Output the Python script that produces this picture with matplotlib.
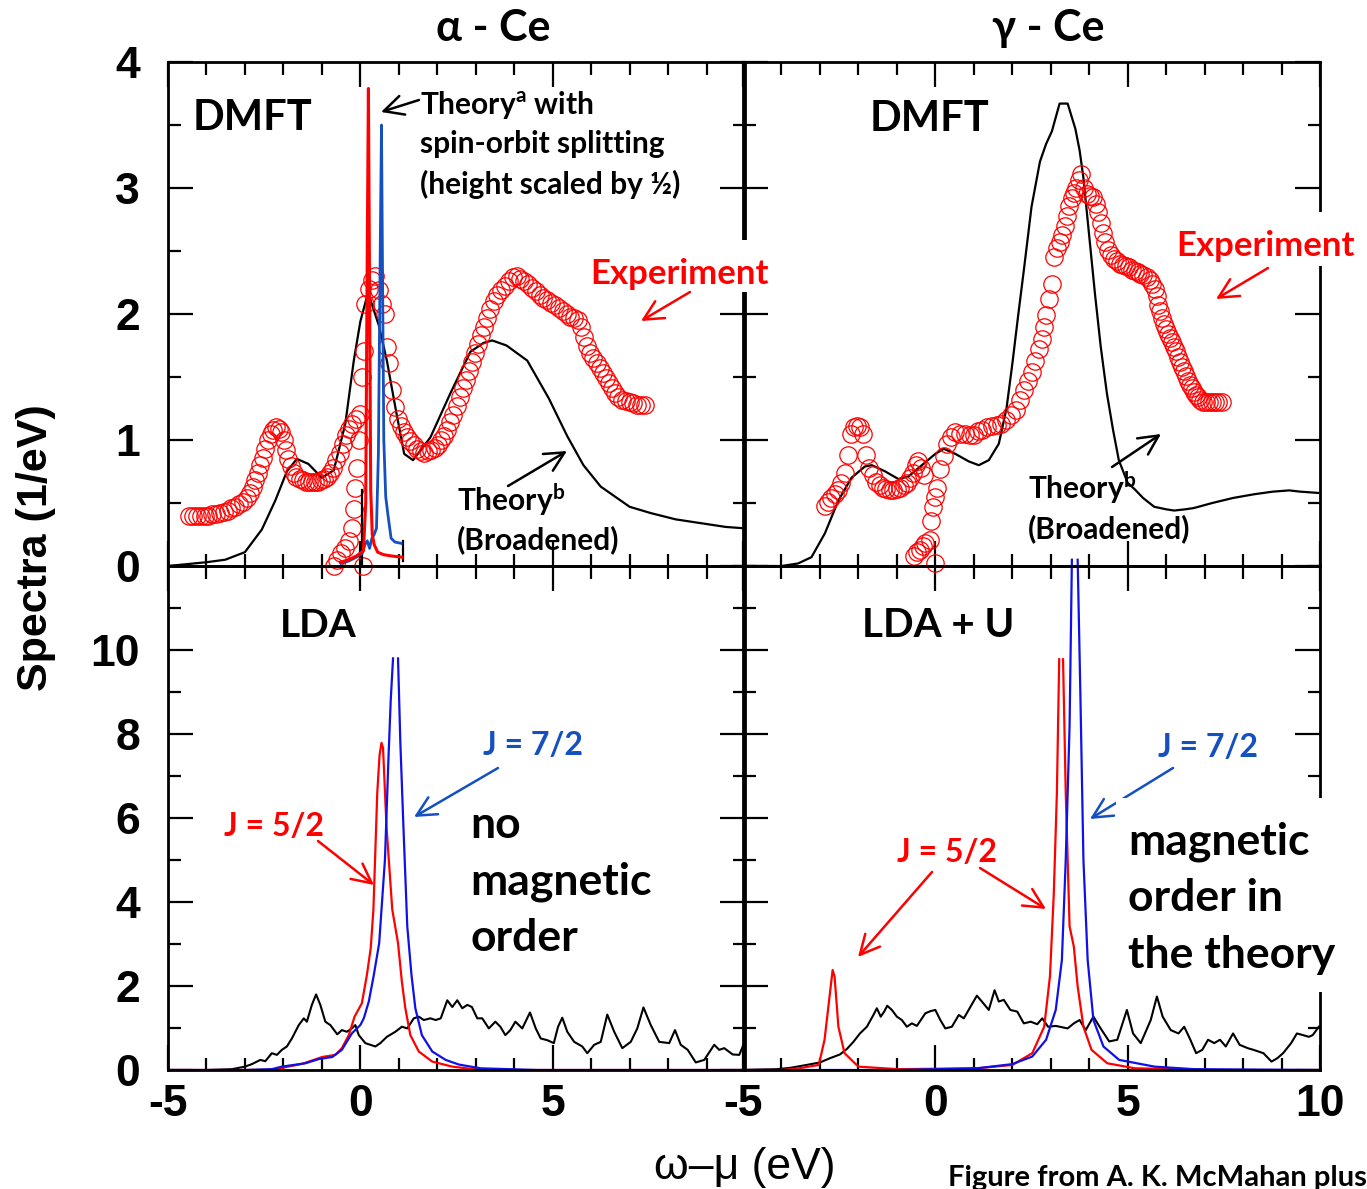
import numpy as np
import matplotlib
matplotlib.use('Agg')
from matplotlib import pyplot as plt
from matplotlib.patches import FancyArrowPatch, Rectangle
from matplotlib.ticker import MultipleLocator

plt.rcParams['font.family'] = ['Lato', 'DejaVu Sans']
plt.rcParams['mathtext.fontset'] = 'custom'
plt.rcParams['mathtext.rm'] = 'Lato'
plt.rcParams['mathtext.bf'] = 'Lato:bold'

W, H = 1367, 1189

# ---------------- data ----------------
# alpha-Ce, DMFT broadened theory (black)
a_dmft_x = [-5, -4.0, -3.51, -3.0, -2.56, -2.21, -1.91, -1.65, -1.35, -1.0, -0.69, -0.39, -0.17, 0.0, 0.2,
            0.48, 0.69, 0.91, 1.14, 1.37, 1.82, 2.34, 2.86, 3.2, 3.43, 3.8, 4.34, 4.9, 5.38, 5.8, 6.25, 7.0,
            7.55, 8.2, 8.85, 9.5, 9.95]
a_dmft_y = [0, 0.03, 0.05, 0.11, 0.29, 0.52, 0.75, 0.85, 0.81, 0.70, 0.76, 1.13, 1.63, 1.94, 2.17,
            1.91, 1.63, 1.26, 0.89, 0.84, 1.02, 1.37, 1.70, 1.77, 1.79, 1.75, 1.63, 1.33, 1.03, 0.80, 0.63, 0.47,
            0.42, 0.37, 0.34, 0.31, 0.30]

# alpha-Ce, theory a (spin-orbit split, unbroadened)
a_so_red_x = [-0.52, -0.3, -0.1, 0.08, 0.14, 0.18, 0.21, 0.24, 0.27, 0.31, 0.36, 0.45, 0.6, 0.8, 1.08]
a_so_red_y = [0.03, 0.05, 0.08, 0.12, 0.5, 2.5, 3.79, 2.2, 0.6, 0.25, 0.17, 0.11, 0.09, 0.08, 0.07]
a_so_blue_x = [-0.5, -0.3, -0.1, 0.05, 0.12, 0.18, 0.24, 0.3, 0.36, 0.42, 0.47, 0.52, 0.55, 0.58, 0.61,
               0.66, 0.72, 0.8, 0.9, 1.06]
a_so_blue_y = [0.02, 0.04, 0.07, 0.1, 0.17, 0.2, 0.14, 0.22, 0.25, 0.3, 0.9, 2.6, 3.5, 2.2, 1.0,
               0.55, 0.4, 0.22, 0.19, 0.18]
inset_x = [0.05, 0.05, np.nan, 1.1, 1.1]
inset_y = [0.0, 0.6, np.nan, 0.04, 0.2]

# alpha-Ce experiment (circles)
a_exp_x = [-4.45, -4.35, -4.25, -4.15, -4.05, -3.95, -3.85, -3.75, -3.65, -3.55, -3.45, -3.35, -3.25, -3.15,
           -3.05, -2.95, -2.87, -2.8, -2.73, -2.66, -2.6, -2.54, -2.47, -2.4, -2.33, -2.26, -2.19, -2.12,
           -2.05, -1.99, -1.93, -1.87, -1.8, -1.73, -1.66, -1.58, -1.5, -1.42, -1.34, -1.26, -1.18, -1.1,
           -1.02, -0.94, -0.86, -0.78, -0.7, -0.62, -0.54, -0.46, -0.38, -0.3, -0.22, -0.12,
           0.13, 0.22, 0.3, 0.39, 0.48, 0.56, 0.65, 0.7, 0.74, 0.83, 0.91, 0.99, 1.06, 1.14, 1.22, 1.3,
           1.39, 1.48, 1.57, 1.66, 1.75, 1.84, 1.93, 2.02, 2.1, 2.18, 2.26, 2.34, 2.42, 2.5, 2.58, 2.66,
           2.74, 2.82, 2.9, 2.98, 3.06, 3.14, 3.22, 3.3, 3.38, 3.47, 3.56, 3.66, 3.76, 3.86, 3.96, 4.06,
           4.16, 4.26, 4.36, 4.46, 4.56, 4.66, 4.76, 4.86, 4.96, 5.06, 5.16, 5.26, 5.36, 5.46, 5.56, 5.66,
           5.74, 5.82, 5.9, 5.98, 6.06, 6.14, 6.22, 6.3, 6.38, 6.46, 6.54, 6.62, 6.7, 6.8, 6.9, 7.0, 7.1,
           7.2, 7.3, 7.4,
           -0.68, -0.6, -0.5, -0.4, -0.3, -0.22, -0.17, -0.13, -0.09, -0.04, 0.0, 0.05, 0.09, 0.08]
a_exp_y = [0.40, 0.40, 0.40, 0.40, 0.40, 0.40, 0.41, 0.41, 0.42, 0.43, 0.44, 0.46, 0.47, 0.49,
           0.51, 0.54, 0.58, 0.63, 0.68, 0.74, 0.80, 0.86, 0.93, 1.0, 1.05, 1.08, 1.10, 1.09,
           1.06, 1.0, 0.92, 0.85, 0.79, 0.74, 0.71, 0.69, 0.68, 0.67, 0.67, 0.67, 0.67, 0.67,
           0.68, 0.69, 0.71, 0.74, 0.78, 0.84, 0.90, 0.97, 1.04, 1.09, 1.13, 1.17,
           2.08, 2.2, 2.27, 2.3, 2.19, 2.08, 2.0, 1.74, 1.61, 1.40, 1.26, 1.17, 1.11, 1.06, 1.02, 0.99,
           0.96, 0.93, 0.91, 0.90, 0.91, 0.92, 0.94, 0.96, 1.0, 1.03, 1.08, 1.14, 1.2, 1.27, 1.34, 1.41,
           1.48, 1.55, 1.62, 1.69, 1.76, 1.83, 1.9, 1.97, 2.04, 2.1, 2.15, 2.19, 2.22, 2.26, 2.29, 2.3,
           2.28, 2.26, 2.24, 2.21, 2.18, 2.15, 2.13, 2.11, 2.09, 2.07, 2.05, 2.02, 2.0, 1.98, 1.97, 1.95,
           1.9, 1.82, 1.75, 1.69, 1.65, 1.61, 1.57, 1.53, 1.49, 1.45, 1.41, 1.37, 1.34, 1.32, 1.31, 1.3, 1.29,
           1.28, 1.28, 1.28,
           0.0, 0.05, 0.1, 0.14, 0.2, 0.3, 0.45, 0.62, 0.78, 1.0, 1.21, 1.5, 1.71, 0.0]

# gamma-Ce, DMFT broadened theory (black)
g_dmft_x = [-5.0, -4.0, -3.57, -3.22, -2.87, -2.52, -2.18, -1.83, -1.65, -1.3, -0.96, -0.7, -0.35, 0.0, 0.22,
            0.52, 0.87, 1.13, 1.39, 1.65, 1.85, 2.0, 2.15, 2.31, 2.5, 2.72, 2.88, 3.03, 3.23, 3.44, 3.64,
            3.75, 3.85, 4.0, 4.15, 4.3, 4.46, 4.62, 4.77, 5.0, 5.18, 5.4, 5.69, 6.0, 6.21, 6.5, 6.72, 7.2,
            7.74, 8.3, 8.77, 9.2, 9.49, 9.95]
g_dmft_y = [0, 0.0, 0.02, 0.07, 0.26, 0.52, 0.70, 0.79, 0.80, 0.75, 0.69, 0.71, 0.80, 0.89, 0.93,
            0.89, 0.83, 0.80, 0.84, 0.97, 1.25, 1.6, 1.98, 2.37, 2.85, 3.21, 3.35, 3.45, 3.67, 3.67, 3.47,
            3.3, 3.08, 2.62, 2.16, 1.74, 1.37, 1.08, 0.84, 0.66, 0.61, 0.54, 0.47, 0.45, 0.44, 0.45, 0.46, 0.50,
            0.54, 0.57, 0.59, 0.60, 0.59, 0.58]

# gamma-Ce experiment (circles)
g_exp_x = [-2.87, -2.78, -2.7, -2.62, -2.54, -2.45, -2.35, -2.28, -2.2, -2.12, -2.04, -1.96, -1.88, -1.8,
           -1.72, -1.63, -1.54, -1.45, -1.36, -1.27, -1.18, -1.09, -1.0, -0.91, -0.82, -0.74, -0.66, -0.58,
           -0.5, -0.44, -0.36, -0.3,
           -0.56, -0.48, -0.41, -0.33, -0.26, -0.15, -0.1, -0.07, -0.02, 0.05, 0.13, 0.22, 0.3, 0.4, 0.52,
           0.65, 0.78, 0.9, 1.0, 1.1, 1.22, 1.34, 1.48, 1.6, 1.72, 1.85, 1.97, 2.1, 2.2, 2.3, 2.4, 2.5, 2.6,
           2.7, 2.77, 2.83, 2.88, 2.95, 3.03, 3.08, 3.16, 3.23, 3.3, 3.36, 3.42, 3.48, 3.54, 3.6, 3.66, 3.73,
           3.79, 3.87, 3.95, 4.03, 4.1, 4.18, 4.24, 4.3, 4.36, 4.42, 4.5, 4.57, 4.65, 4.72, 4.8, 4.87, 4.95,
           5.03, 5.1, 5.18, 5.26, 5.33, 5.41, 5.49, 5.57, 5.64, 5.7, 5.75, 5.8, 5.85, 5.9, 5.95, 6.0, 6.05,
           6.1, 6.15, 6.21, 6.26, 6.31, 6.36, 6.41, 6.46, 6.51, 6.56, 6.62, 6.67, 6.72, 6.77, 6.82, 6.87,
           6.95, 7.03, 7.11, 7.19, 7.27, 7.35, 7.44, 0.0]
g_exp_y = [0.48, 0.51, 0.54, 0.57, 0.60, 0.66, 0.74, 0.88, 1.05, 1.10, 1.11, 1.10, 1.05, 0.88,
           0.78, 0.72, 0.67, 0.64, 0.62, 0.61, 0.60, 0.60, 0.61, 0.62, 0.64, 0.66, 0.70, 0.74,
           0.80, 0.83, 0.78, 0.72,
           0.08, 0.11, 0.13, 0.16, 0.18, 0.21, 0.36, 0.47, 0.55, 0.62, 0.77, 0.87, 0.97, 1.02, 1.06,
           1.05, 1.05, 1.04, 1.04, 1.07, 1.08, 1.10, 1.11, 1.12, 1.13, 1.16, 1.20, 1.24, 1.32, 1.40, 1.47, 1.54, 1.63,
           1.72, 1.80, 1.90, 1.99, 2.12, 2.24, 2.45, 2.52, 2.57, 2.63, 2.70, 2.78, 2.86, 2.92, 2.96, 3.0, 3.06,
           3.11, 3.0, 2.95, 2.94, 2.93, 2.87, 2.81, 2.72, 2.64, 2.57, 2.51, 2.47, 2.44, 2.42, 2.40, 2.39, 2.38,
           2.37, 2.35, 2.34, 2.33, 2.32, 2.31, 2.29, 2.27, 2.24, 2.20, 2.14, 2.07, 2.02, 1.97, 1.92, 1.88, 1.84,
           1.81, 1.78, 1.74, 1.71, 1.66, 1.62, 1.58, 1.55, 1.51, 1.47, 1.44, 1.41, 1.38, 1.36, 1.34, 1.32,
           1.30, 1.30, 1.30, 1.30, 1.30, 1.30, 1.30, 0.02]

# LDA (alpha-Ce)
lda_blk_x = [-5, -4, -3.34, -3.0, -2.82, -2.6, -2.47, -2.3, -2.17, -2.04, -1.91, -1.78, -1.6, -1.47, -1.39,
             -1.26, -1.15, -1.04, -0.91, -0.78, -0.6, -0.48, -0.35, -0.22, -0.13, -0.04, 0.13, 0.39, 0.52,
             0.69, 0.91, 1.08, 1.22, 1.39, 1.52, 1.65, 1.82, 1.96, 2.09, 2.26, 2.39, 2.52, 2.65, 2.78, 2.9,
             3.04, 3.17, 3.34, 3.51, 3.64, 3.77, 3.9, 4.03, 4.21, 4.41, 4.56, 4.69, 4.86, 5.03, 5.14, 5.25,
             5.38, 5.56, 5.77, 5.9, 6.08, 6.25, 6.42, 6.6, 6.81, 7.03, 7.2, 7.36, 7.55, 7.77, 8.03, 8.18,
             8.33, 8.51, 8.72, 8.94, 9.2, 9.33, 9.46, 9.68, 9.85, 9.98]
lda_blk_y = [0, 0.0, 0.02, 0.08, 0.14, 0.24, 0.21, 0.40, 0.36, 0.48, 0.56, 0.75, 1.07, 1.23, 1.15,
             1.55, 1.80, 1.55, 1.15, 1.07, 0.85, 0.95, 0.91, 0.99, 1.07, 0.83, 0.64, 0.56, 0.64,
             0.79, 0.91, 1.03, 0.99, 1.23, 1.27, 1.19, 1.23, 1.19, 1.23, 1.66, 1.50, 1.66, 1.47, 1.55, 1.50,
             1.23, 1.23, 0.99, 1.15, 1.03, 0.83, 0.95, 1.15, 0.99, 1.37, 0.99, 0.75, 0.71, 0.64, 1.03, 1.245,
             0.91, 0.67, 0.56, 0.40, 0.60, 0.67, 1.32, 0.91, 0.52, 0.67, 0.99, 1.49, 1.07, 0.67, 0.64, 0.95,
             0.60, 0.48, 0.18, 0.24, 0.60, 0.48, 0.52, 0.37, 0.36, 0.64]
lda_red_x = [-5, -3, -2.25, -1.5, -0.99, -0.65, -0.48, -0.3, -0.15, 0.04, 0.17, 0.27, 0.34, 0.44, 0.5, 0.55,
             0.59, 0.68, 0.83, 0.98, 1.08, 1.17, 1.3, 1.52, 1.87, 2.39, 3.13, 10]
lda_red_y = [0, 0, 0.01, 0.15, 0.31, 0.36, 0.52, 0.83, 1.27, 1.59, 2.26, 2.9, 3.82, 6.6, 7.5, 7.79,
             7.67, 5.8, 3.82, 3.02, 2.1, 1.47, 0.83, 0.44, 0.2, 0.08, 0.0, 0.0]
lda_blue_x = [-5, -3, -2.3, -2.04, -1.43, -1.08, -0.73, -0.48, -0.22, -0.09, 0.0, 0.09, 0.22, 0.35, 0.49,
              0.64, 0.73, 0.79, 0.85, np.nan, 0.98, 1.04, 1.12, 1.22, 1.33, 1.43, 1.6, 1.87, 2.22, 2.56,
              3.13, 4.6, 10]
lda_blue_y = [0, 0, 0.02, 0.08, 0.16, 0.26, 0.31, 0.48, 0.87, 0.99, 1.07, 1.23, 1.63, 2.26, 3.02,
              5.01, 7.39, 8.8, 9.8, np.nan, 9.8, 7.8, 5.8, 3.42, 2.26, 1.47, 0.83, 0.44, 0.24, 0.13,
              0.04, 0.0, 0.0]

# LDA+U (gamma-Ce)
ldau_blk_x = [-5, -4.13, -3.78, -3.35, -3.0, -2.74, -2.48, -2.3, -2.13, -1.96, -1.78, -1.61, -1.52, -1.42,
              -1.33, -1.25, -1.13, -1.0, -0.87, -0.74, -0.61, -0.48, -0.26, -0.13, 0.0, 0.13, 0.26, 0.43,
              0.61, 0.74, 0.91, 1.08, 1.21, 1.39, 1.54, 1.65, 1.78, 1.95, 2.13, 2.3, 2.48, 2.65, 2.78,
              2.93, 3.13, 3.44, 3.6, 3.75, 3.91, 4.11, 4.27, 4.52, 4.73, 4.98, 5.14, 5.34, 5.6, 5.76,
              5.91, 6.12, 6.32, 6.47, 6.63, 6.78, 6.94, 7.09, 7.25, 7.4, 7.55, 7.74, 7.91, 8.12, 8.27,
              8.53, 8.74, 8.89, 9.04, 9.25, 9.4, 9.56, 9.71, 9.81, 9.97]
ldau_blk_y = [0, 0.02, 0.05, 0.12, 0.18, 0.28, 0.37, 0.50, 0.67, 0.87, 1.03, 1.31, 1.47, 1.27,
              1.39, 1.53, 1.43, 1.27, 1.19, 1.03, 1.11, 1.05, 1.35, 1.40, 1.43, 1.19, 0.99, 1.03,
              1.31, 1.23, 1.50, 1.77, 1.63, 1.43, 1.90, 1.63, 1.67, 1.43, 1.39, 1.11, 1.15, 1.09, 1.23,
              1.03, 1.05, 0.99, 1.11, 1.19, 0.95, 1.27, 1.03, 0.68, 0.72, 1.43, 0.87, 0.64, 1.19, 1.75,
              1.27, 0.95, 0.87, 1.03, 0.72, 0.40, 0.48, 0.72, 0.64, 0.72, 0.56, 0.87, 0.60, 0.52, 0.48,
              0.40, 0.20, 0.28, 0.40, 0.64, 0.87, 0.83, 0.79, 0.83, 1.03]
ldau_red_x = [-5, -4, -3.55, -3.03, -2.88, -2.74, -2.67, -2.62, -2.52, -2.36, -2.0, -0.98, 1.08, 2.0, 2.52,
              2.83, 2.98, 3.08, 3.16, 3.22, np.nan, 3.32, 3.39, 3.49, 3.6, 3.7, 3.85, 4.06, 4.47, 5.19,
              7.25, 10]
ldau_red_y = [0, 0, 0.04, 0.12, 0.72, 1.83, 2.38, 2.23, 1.03, 0.40, 0.08, 0.02, 0.04, 0.12, 0.40,
              1.03, 2.23, 4.21, 6.6, 9.78, np.nan, 9.78, 6.6, 3.42, 2.94, 1.99, 1.03, 0.48, 0.16, 0.04,
              0.0, 0.0]
ldau_blue_x = [-5, -1, 1.08, 2.0, 2.52, 2.88, 3.13, 3.29, 3.39, 3.49, 3.55, np.nan, 3.7, 3.77, 3.85, 3.96,
               4.11, 4.37, 4.78, 5.7, 6.73, 10]
ldau_blue_y = [0, 0.0, 0.04, 0.14, 0.32, 0.72, 1.43, 2.62, 5.0, 8.19, 12.15, np.nan, 12.15, 8.98, 5.0, 2.62,
               1.19, 0.56, 0.24, 0.08, 0.02, 0.0]

x_ticks = [-5, 0, 5, 10]
x_labels_left = ['-5', '0', '5', '']
x_labels_right = ['-5', '0', '5', '10']
top_yticks = [0, 1, 2, 3, 4]
bot_yticks = [0, 2, 4, 6, 8, 10]

RED = '#ff0000'
BLUE_LINE = '#1010e8'
BLUE_TXT = '#1450c0'

# ---------------- figure ----------------
fig = plt.figure(figsize=(W / 100, H / 100), dpi=100)


def P(px, py):
    return (px / W, 1 - py / H)


x0L, x0R, aw = 168 / W, 743 / W, 577 / W
y0T, y0B, ah = 1 - 566 / H, 1 - 1070 / H, 504 / H

axBL = fig.add_axes([x0L, y0B, aw, ah])
axBR = fig.add_axes([x0R, y0B, aw, ah])
axTL = fig.add_axes([x0L, y0T, aw, ah])
axTR = fig.add_axes([x0R, y0T, aw, ah])

for ax in (axTL, axTR, axBL, axBR):
    ax.patch.set_alpha(0)
    ax.set_xlim(-5, 10)
    for s in ax.spines.values():
        s.set_linewidth(2)
    ax.xaxis.set_major_locator(MultipleLocator(5))
    ax.xaxis.set_minor_locator(MultipleLocator(1))
    ax.tick_params(which='both', direction='in', top=True, right=True, width=1.6)
    ax.tick_params(which='major', length=18)
    ax.tick_params(which='minor', length=9)
    ax.tick_params(axis='y', pad=20)
    ax.tick_params(axis='x', pad=10)

for ax in (axTL, axTR):
    ax.set_ylim(0, 4)
    ax.yaxis.set_major_locator(MultipleLocator(1))
    ax.yaxis.set_minor_locator(MultipleLocator(0.5))
    ax.set_xticks(x_ticks)
    ax.set_xticklabels([])
for ax in (axBL, axBR):
    ax.set_ylim(0, 12)
    ax.yaxis.set_major_locator(MultipleLocator(2))
    ax.yaxis.set_minor_locator(MultipleLocator(1))

tickfont = dict(fontfamily='Liberation Sans', fontweight='bold', fontsize=32)
axTL.set_yticks(top_yticks)
axTL.set_yticklabels([str(v) for v in top_yticks], **tickfont)
axBL.set_yticks(bot_yticks)
axBL.set_yticklabels([str(v) for v in bot_yticks], **tickfont)
axTR.set_yticklabels([])
axBR.set_yticks(bot_yticks)
axBR.set_yticklabels([])
axBL.set_xticks(x_ticks)
axBL.set_xticklabels(x_labels_left, **tickfont)
axBR.set_xticks(x_ticks)
axBR.set_xticklabels(x_labels_right, **tickfont)

circ = dict(ls='none', marker='o', mfc='none', mec=RED, ms=12.5, mew=0.9, clip_on=False)

# top-left: alpha-Ce DMFT
axTL.plot(a_dmft_x, a_dmft_y, color='black', lw=1.6)
axTL.plot(a_exp_x, a_exp_y, **circ)
axTL.plot(inset_x, inset_y, color='black', lw=1.6)
axTL.plot(a_so_blue_x, a_so_blue_y, color=BLUE_TXT, lw=2)
axTL.plot(a_so_red_x, a_so_red_y, color=RED, lw=2.2)

# top-right: gamma-Ce DMFT
axTR.plot(g_dmft_x, g_dmft_y, color='black', lw=1.6)
axTR.plot(g_exp_x, g_exp_y, **circ)

# bottom-left: LDA
axBL.plot(lda_blk_x, lda_blk_y, color='black', lw=1.5)
axBL.plot(lda_red_x, lda_red_y, color=RED, lw=1.6)
axBL.plot(lda_blue_x, lda_blue_y, color=BLUE_LINE, lw=1.6)

# bottom-right: LDA+U
axBR.plot(ldau_blk_x, ldau_blk_y, color='black', lw=1.5)
axBR.plot(ldau_red_x, ldau_red_y, color=RED, lw=1.6)
axBR.plot(ldau_blue_x, ldau_blue_y, color=BLUE_LINE, lw=1.6, clip_on=False)


# ---------------- annotations ----------------
def txt(px, py, s, size, color='black', **kw):
    fig.text(*P(px, py), s, fontsize=size, color=color, fontweight='bold', va='baseline',
             zorder=6, **kw)


def arrow(tail, head, color='black', z=5.5):
    fig.add_artist(FancyArrowPatch(P(*tail), P(*head), transform=fig.transFigure,
                                   arrowstyle='->,head_length=0.7,head_width=0.35',
                                   mutation_scale=20, lw=1.8, color=color,
                                   shrinkA=0, shrinkB=0, zorder=z))


def blank(px0, py0, px1, py1):
    fig.add_artist(Rectangle(P(px0, py1), (px1 - px0) / W, (py1 - py0) / H,
                             transform=fig.transFigure, facecolor='white',
                             edgecolor='none', zorder=5))


# titles and axis labels
txt(493, 41, 'α - Ce', 31, ha='center')
txt(1048, 41, 'γ - Ce', 31, ha='center')
fig.text(*P(36, 548), 'Spectra (1/eV)', rotation=90, ha='center', va='center',
         fontfamily='Liberation Sans', fontweight='bold', fontsize=31)
fig.text(*P(745, 1168), 'ω–μ (eV)', ha='center', va='center',
         fontfamily='Liberation Sans', fontsize=32)
txt(948, 1186, 'Figure from A. K. McMahan plus', 21)

# top-left panel
txt(193, 130, 'DMFT', 30)
txt(420, 115, 'Theory$^{\\mathbf{a}}$ with', 21.5)
txt(420, 153, 'spin-orbit splitting', 21.5)
txt(420, 194, '(height scaled by ½)', 21.5)
arrow((419, 100), (381, 112))
blank(585, 240, 772, 292)
txt(590, 284, 'Experiment', 25, color=RED)
arrow((690, 292), (641, 321), RED)
txt(457, 511, 'Theory$^{\\mathbf{b}}$', 21.5)
txt(457, 549, '(Broadened)', 21.5)
arrow((508, 486), (567, 451))

# top-right panel
txt(870, 131, 'DMFT', 30)
blank(1170, 212, 1362, 266)
txt(1176, 256, 'Experiment', 25, color=RED)
arrow((1268, 268), (1216, 299), RED)
txt(1028, 499, 'Theory$^{\\mathbf{b}}$', 21.5)
txt(1028, 538, '(Broadened)', 21.5)
arrow((1112, 467), (1161, 434))

# bottom-left panel
txt(280, 637, 'LDA', 28)
txt(483, 755, 'J = 7/2', 23, color=BLUE_TXT)
arrow((498, 768), (414, 817), BLUE_TXT)
txt(224, 836, 'J = 5/2', 23, color=RED)
arrow((318, 841), (374, 885), RED)
txt(470, 838, 'no', 32)
txt(470, 894, 'magnetic', 32)
txt(470, 951, 'order', 32)

# bottom-right panel
txt(862, 637, 'LDA + U', 29)
txt(1158, 757, 'J = 7/2', 23, color=BLUE_TXT)
arrow((1173, 768), (1090, 819), BLUE_TXT, z=4)
txt(897, 862, 'J = 5/2', 23, color=RED)
arrow((932, 872), (858, 957), RED)
arrow((980, 868), (1046, 909), RED)
blank(1116, 798, 1345, 992)
txt(1128, 855, 'magnetic', 32)
txt(1128, 911, 'order in', 32)
txt(1128, 968, 'the theory', 32)

fig.savefig('out.png', dpi=100)
